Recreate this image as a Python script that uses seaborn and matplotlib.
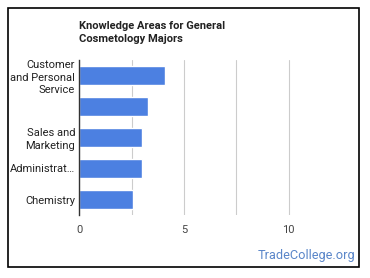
import matplotlib
matplotlib.use("Agg")
import matplotlib.pyplot as plt
import seaborn as sns
import pandas as pd
from matplotlib.patches import Rectangle

categories = ["Customer\nand Personal\nService", "", "Sales and\nMarketing", "Administrat…", "Chemistry"]
values = [4.09, 3.3, 3.0, 3.0, 2.58]
x_ticks = [0, 5, 10]
x_tick_labels = ["0", "5", "10"]
title = "Knowledge Areas for General\nCosmetology Majors"
watermark = "TradeCollege.org"

sns.set_theme(style="white")
plt.rcParams['font.family'] = ['Roboto', 'DejaVu Sans']

fig = plt.figure(figsize=(3.7, 2.78), dpi=100)
W, H = 370, 278
ax = fig.add_axes([79.3 / W, 1 - 215 / H, (341 - 79.3) / W, (215 - 60) / H])

df = pd.DataFrame({"cat": categories, "val": values})
df["pos"] = range(len(df))
sns.barplot(data=df, x="val", y="pos", orient="h", color="#4c80e1",
            saturation=1, width=0.63, ax=ax, native_scale=False)

ax.set_xlim(0, 12.5)
ax.set_xticks(x_ticks)
ax.set_xticklabels(x_tick_labels)
ax.set_xticks([2.5, 7.5], minor=True)
ax.set_yticks(range(len(categories)))
ax.set_yticklabels(categories, linespacing=1.3)
ax.grid(True, axis="x", which="both", color="#cccccc", linewidth=0.8)
ax.set_axisbelow(True)
ax.set_xlabel("")
ax.set_ylabel("")
for s in ["top", "right", "bottom"]:
    ax.spines[s].set_visible(False)
ax.spines["left"].set_color("#333333")
ax.spines["left"].set_linewidth(1)
ax.tick_params(axis="x", length=0, pad=7, labelsize=8, labelcolor="#444444")
ax.tick_params(axis="y", length=0, pad=3, labelsize=8, labelcolor="#222222")

fig.text(79 / W, 1 - 21 / H, title, fontsize=8, fontweight="bold", color="#222222",
         ha="left", va="top", linespacing=1.35)
fig.text(355 / W, 1 - 255 / H, watermark, fontsize=9.2, color="#5a86c9",
         ha="right", va="center")

fig.patches.append(Rectangle((8 / W, 1 - 267 / H), (359 - 8) / W, (267 - 8) / H,
                             transform=fig.transFigure, fill=False,
                             edgecolor="black", linewidth=1.2))

fig.savefig("out.png", dpi=100)
